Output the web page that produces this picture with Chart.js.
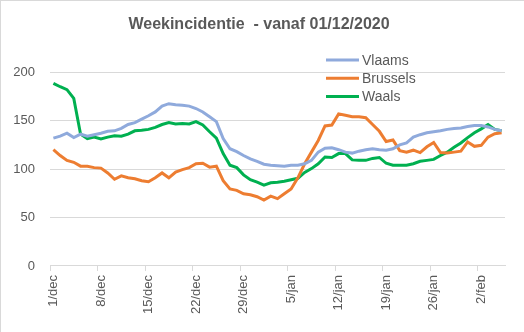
<!DOCTYPE html>
<html>
<head>
<meta charset="utf-8">
<script src="https://cdn.jsdelivr.net/npm/chart.js@4"></script>
<style>
  html, body { margin: 0; padding: 0; background: #fff; }
  #wrap { position: relative; width: 524px; height: 332px; }
  #frame { position: absolute; left: 0; top: 0; right: 0; bottom: 0;
           border-top: 1px solid #d9d9d9; border-left: 1px solid #d9d9d9; pointer-events: none; }
</style>
</head>
<body>
<div id="wrap">
  <canvas id="chart" width="524" height="332"></canvas>
  <div id="frame"></div>
</div>
<script>
// days from 1/dec to 5/feb
const categories = [
  '1/dec','2/dec','3/dec','4/dec','5/dec','6/dec','7/dec','8/dec','9/dec','10/dec',
  '11/dec','12/dec','13/dec','14/dec','15/dec','16/dec','17/dec','18/dec','19/dec','20/dec',
  '21/dec','22/dec','23/dec','24/dec','25/dec','26/dec','27/dec','28/dec','29/dec','30/dec',
  '31/dec','1/jan','2/jan','3/jan','4/jan','5/jan','6/jan','7/jan','8/jan','9/jan',
  '10/jan','11/jan','12/jan','13/jan','14/jan','15/jan','16/jan','17/jan','18/jan','19/jan',
  '20/jan','21/jan','22/jan','23/jan','24/jan','25/jan','26/jan','27/jan','28/jan','29/jan',
  '30/jan','31/jan','1/feb','2/feb','3/feb','4/feb','5/feb'
];

const vlaams = [
  132, 134, 137, 132.5, 136, 134, 135.5, 137, 139, 139.5,
  142, 146, 148, 151.5, 155, 159, 165, 167.5, 166.5, 166,
  165, 162.5, 159, 154, 149, 131.5, 121, 118, 114, 110.5,
  108, 105, 104, 103.5, 103, 104, 104, 105.5, 109, 117.5,
  121.5, 122, 120, 117.5, 116.5, 118.5, 120, 121, 120, 119.5,
  121, 125, 127, 133, 135.5, 137.5, 138.5, 139.5, 141, 142,
  142.5, 144, 145, 145, 143.5, 141, 139.5
];

const brussels = [
  120, 114, 109, 107, 103, 103, 101.5, 101, 96, 89.5,
  93, 91, 90, 88, 87, 91, 96, 91, 97, 99.5,
  101.5, 105.5, 106, 102, 103, 88, 79.5, 78, 74.5, 73.5,
  71.5, 68, 72, 69.5, 74.5, 79.5, 91, 105.5, 117.5, 129.5,
  144.5, 145.5, 157, 155.5, 154, 154, 153, 146, 139, 128.5,
  130, 119, 117.5, 119.5, 117, 123, 127.5, 117, 116.5, 117.5,
  118.5, 128, 123.5, 124.5, 133, 136.5, 137.5
];

const waals = [
  188.5, 185, 182, 173, 136, 131.5, 133, 131, 133, 134.5,
  134, 136, 139.5, 140, 141, 143, 146, 148, 146.5, 147,
  146.5, 149, 145.5, 138.5, 132, 116, 104, 101.5, 94, 89,
  86.5, 83.5, 85.8, 86.5, 87.5, 89, 90.5, 96.5, 100.5, 105.5,
  112.5, 112, 116, 116, 109.5, 109, 109, 111, 112, 106,
  104, 104, 104, 105.5, 108, 109, 110, 114, 117.5, 122.5,
  127, 132.5, 137.5, 141.5, 146, 141, 139.5
];

const seriesNames = ['Vlaams', 'Brussels', 'Waals'];
const seriesColors = ['#8faadc', '#ed7d31', '#00b050'];
const yTicks = [0, 50, 100, 150, 200];

const textGray = '#595959';
const gridGray = '#d9d9d9';
const fontFamily = '"Liberation Sans", Arial, sans-serif';

// legend sits inside the plot, top right, like the Excel original
const floatingLegend = {
  id: 'floatingLegend',
  afterDraw(chart) {
    const c = chart.ctx;
    c.save();
    c.font = '14px ' + fontFamily;
    c.textBaseline = 'middle';
    chart.data.datasets.forEach(function(ds, i) {
      const y = 60 + i * 18.3;
      c.strokeStyle = ds.borderColor;
      c.lineWidth = 3;
      c.beginPath();
      c.moveTo(326, y);
      c.lineTo(359, y);
      c.stroke();
      c.fillStyle = textGray;
      c.fillText(ds.label, 362, y + 1);
    });
    c.restore();
  }
};

const ctx = document.getElementById('chart').getContext('2d');
const chart = new Chart(ctx, {
  type: 'line',
  data: {
    labels: categories,
    datasets: [vlaams, brussels, waals].map(function(values, i) {
      return {
        label: seriesNames[i],
        data: values,
        borderColor: seriesColors[i],
        backgroundColor: seriesColors[i],
        borderWidth: 3,
        pointRadius: 0,
        tension: 0,
        fill: false
      };
    })
  },
  options: {
    responsive: false,
    animation: false,
    layout: { padding: { left: 13, right: 19, top: 0, bottom: 14 } },
    plugins: {
      legend: { display: false },
      tooltip: { enabled: false },
      title: {
        display: true,
        text: 'Weekincidentie  - vanaf 01/12/2020',
        color: textGray,
        font: { family: fontFamily, size: 16, weight: 'bold' },
        padding: { top: 15, bottom: 38 }
      }
    },
    scales: {
      x: {
        offset: true,
        grid: {
          offset: true,
          drawOnChartArea: false,
          drawTicks: true,
          tickLength: 5,
          color: function(c) {
            return (c.index !== undefined && c.index % 7 === 0) ? gridGray : 'rgba(0,0,0,0)';
          }
        },
        border: { display: true, color: gridGray, width: 1 },
        ticks: {
          autoSkip: false,
          minRotation: 90,
          maxRotation: 90,
          padding: 4,
          color: textGray,
          font: { family: fontFamily, size: 13 },
          callback: function(value, index) {
            return index % 7 === 0 ? categories[index] : '';
          }
        }
      },
      y: {
        min: yTicks[0],
        max: yTicks[yTicks.length - 1],
        afterBuildTicks: function(axis) {
          axis.ticks = yTicks.map(function(v) { return { value: v }; });
        },
        afterFit: function(axis) {
          axis.width = 37;
        },
        grid: { color: gridGray, drawTicks: false },
        border: { display: false },
        ticks: {
          padding: 15,
          color: textGray,
          font: { family: fontFamily, size: 13 }
        }
      }
    }
  },
  plugins: [floatingLegend]
});
</script>
</body>
</html>
